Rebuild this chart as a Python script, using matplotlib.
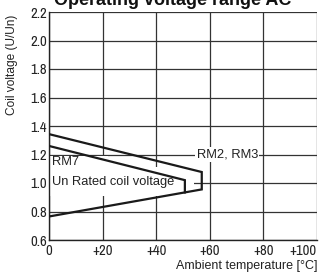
import matplotlib
matplotlib.use("Agg")
import matplotlib.pyplot as plt
from matplotlib import font_manager
from matplotlib.patches import Rectangle

names = {f.name for f in font_manager.fontManager.ttflist}
narrow = next((n for n in ["Liberation Sans Narrow", "Archivo Narrow", "Barlow Semi Condensed"]
               if n in names), "Liberation Sans")

# Data
rm23_temp = [0, 57, 57, 0]
rm23_volt = [1.343, 1.077, 0.955, 0.765]
rm7_temp = [0, 50.7, 50.7]
rm7_volt = [1.26, 1.02, 0.934]
xticks = [0, 20, 40, 60, 80, 100]
xticklabels = ["0", "+20", "+40", "+60", "+80", "+100"]
yticks = [0.6, 0.8, 1.0, 1.2, 1.4, 1.6, 1.8, 2.0, 2.2]

fig = plt.figure(figsize=(3.2, 2.73), dpi=100)
ax = fig.add_axes([49/320, 1-240/273, (317-49)/320, (240-12)/273])
ax.set_xlim(0, 100)
ax.set_ylim(0.6, 2.2)
ax.set_xticks(xticks)
ax.set_xticklabels(xticklabels)
ax.set_yticks(yticks)
ax.set_yticklabels([f"{v:.1f}" for v in yticks])
ax.tick_params(length=0, labelsize=10.5, colors="#222222")
ax.tick_params(axis="x", pad=3.0)
ax.tick_params(axis="y", pad=1.5)
for lab in ax.get_xticklabels() + ax.get_yticklabels():
    lab.set_family(narrow)
ax.get_xticklabels()[-1].set_horizontalalignment("right")
ax.get_xticklabels()[-1].set_x(100.5)
ax.grid(True, color="#333333", lw=0.9, zorder=1)
ax.set_axisbelow(True)
for s in ["top", "right"]:
    ax.spines[s].set_visible(False)
for s in ["left", "bottom"]:
    ax.spines[s].set_color("#222222")
    ax.spines[s].set_linewidth(1.0)

# white backgrounds behind labels
ax.add_patch(Rectangle((0, 0.909), 22, 1.19-0.909, facecolor="white", edgecolor="none", zorder=2))
ax.add_patch(Rectangle((0, 0.909), 54, 1.112-0.909, facecolor="white", edgecolor="none", zorder=2))

ax.plot(rm23_temp, rm23_volt, color="#1a1a1a", lw=1.6, zorder=4, solid_joinstyle="miter")
ax.plot(rm7_temp, rm7_volt, color="#1a1a1a", lw=1.6, zorder=4, solid_joinstyle="miter")

ax.text(66.5, 1.2, "RM2, RM3", ha="center", va="center", fontsize=9.3, family="Liberation Sans",
        color="#222222", zorder=3,
        bbox=dict(facecolor="white", edgecolor="none", pad=1.0))
ax.text(1.0, 1.145, "RM7", ha="left", va="center", fontsize=9.3, family="Liberation Sans",
        color="#222222", zorder=3)
ax.text(1.0, 1.01, "Un Rated coil voltage", ha="left", va="center", fontsize=9.3,
        family="Liberation Sans", color="#222222", zorder=3)

fig.text(173/320, 1-5/273, "Operating voltage range AC", ha="center", va="baseline",
         fontsize=13, fontweight="bold", family="Liberation Sans", color="#111111")
fig.text(12/320, 1-65/273, "Coil voltage (U/Un)", rotation=90, ha="center", va="center",
         fontsize=8.6, family="Liberation Sans", color="#222222")
fig.text(318/320, 1-266/273, "Ambient temperature [°C]", ha="right", va="center",
         fontsize=9, family="Liberation Sans", color="#222222")

fig.savefig("out.png", dpi=100)
